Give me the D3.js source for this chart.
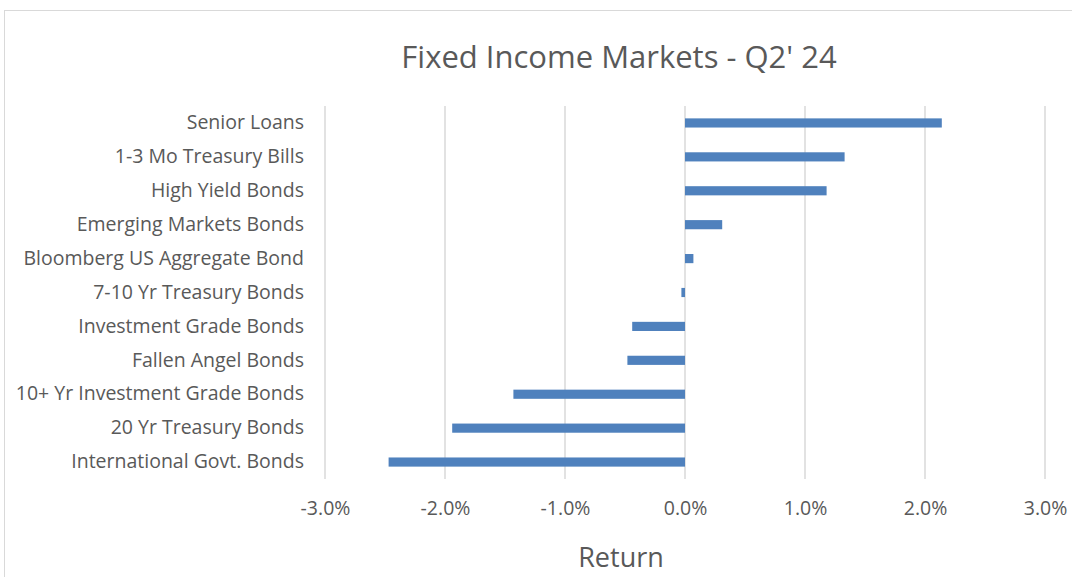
<!DOCTYPE html>
<html lang="en">
<head>
<meta charset="utf-8">
<style>
    body { margin: 0; background: #fff; }
    text { font-family: "Open Sans", Lato, sans-serif; fill: #595959; }
</style>
</head>
<body>
<svg width="1072" height="577"></svg>
<script src="https://cdn.jsdelivr.net/npm/d3@7"></script>
<script>
    // returns for the quarter, top to bottom
    var categories = [
        "Senior Loans",
        "1-3 Mo Treasury Bills",
        "High Yield Bonds",
        "Emerging Markets Bonds",
        "Bloomberg US Aggregate Bond",
        "7-10 Yr Treasury Bonds",
        "Investment Grade Bonds",
        "Fallen Angel Bonds",
        "10+ Yr Investment Grade Bonds",
        "20 Yr Treasury Bonds",
        "International Govt. Bonds"
    ];
    var returns = [0.0214, 0.0133, 0.0118, 0.0031, 0.0007, -0.0003, -0.0044, -0.0048, -0.0143, -0.0194, -0.0247];
    var tickValues = [-0.03, -0.02, -0.01, 0, 0.01, 0.02, 0.03];

    var svg = d3.select("svg");

    // chart frame
    svg.append("rect")
        .attr("x", 4.5).attr("y", 10.5)
        .attr("width", 1100).attr("height", 600)
        .attr("fill", "none")
        .attr("stroke", "#d9d9d9");

    var x = d3.scaleLinear().domain([-0.03, 0.03]).range([325, 1045]);
    var y = d3.scaleBand().domain(categories).range([106, 479]).paddingInner(0.73).paddingOuter(0.365);

    svg.append("g").selectAll("line")
        .data(tickValues)
        .enter().append("line")
        .attr("x1", function (d) { return x(d); })
        .attr("x2", function (d) { return x(d); })
        .attr("y1", 106).attr("y2", 479)
        .attr("stroke", "#d9d9d9")
        .attr("stroke-width", 1.5);

    svg.append("g").selectAll("rect")
        .data(returns)
        .enter().append("rect")
        .attr("x", function (d) { return x(Math.min(0, d)); })
        .attr("width", function (d) { return Math.abs(x(d) - x(0)); })
        .attr("y", function (d, i) { return y(categories[i]); })
        .attr("height", y.bandwidth())
        .attr("fill", "#4f81bd");

    var yAxis = svg.append("g")
        .attr("transform", "translate(325,0)")
        .call(d3.axisLeft(y).tickSize(0).tickPadding(21));
    yAxis.select(".domain").remove();
    yAxis.selectAll("text")
        .style("font-size", "19.5px")
        .attr("fill", "#595959");

    var pct = d3.format(".1%");
    var xAxis = svg.append("g")
        .attr("transform", "translate(0,479)")
        .call(d3.axisBottom(x).tickValues(tickValues).tickSize(0).tickPadding(22)
            .tickFormat(function (d) { return pct(d).replace("\u2212", "-"); }));
    xAxis.select(".domain").remove();
    xAxis.selectAll("text")
        .style("font-size", "19.5px")
        .attr("fill", "#595959");

    svg.append("text")
        .attr("x", 619).attr("y", 68)
        .attr("text-anchor", "middle")
        .style("font-size", "31px")
        .text("Fixed Income Markets - Q2' 24");

    svg.append("text")
        .attr("x", 621).attr("y", 567)
        .attr("text-anchor", "middle")
        .style("font-size", "27px")
        .text("Return");
</script>
</body>
</html>
